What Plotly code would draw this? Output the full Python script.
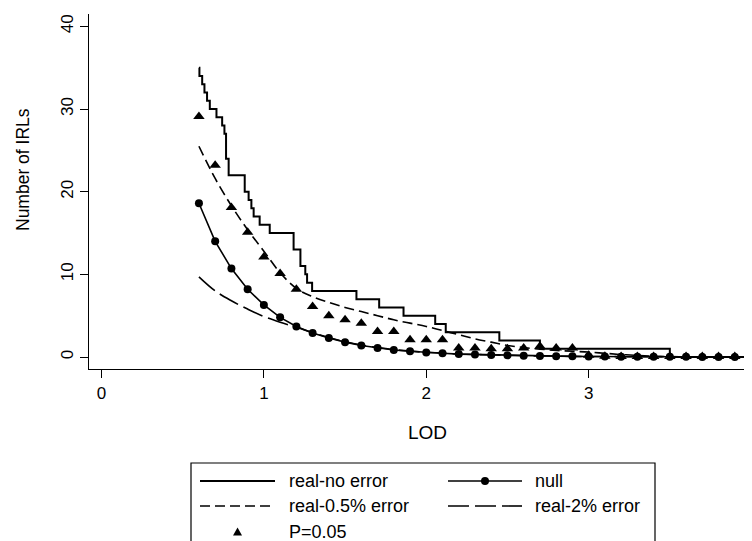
import plotly.graph_objects as go

# LOD grid for the simulated curves
lod = [0.6, 0.7, 0.8, 0.9, 1.0, 1.1, 1.2, 1.3, 1.4, 1.5, 1.6, 1.7, 1.8, 1.9, 2.0,
       2.1, 2.2, 2.3, 2.4, 2.5, 2.6, 2.7, 2.8, 2.9, 3.0, 3.1, 3.2, 3.3, 3.4, 3.5,
       3.6, 3.7, 3.8, 3.9, 4.0]

null_irl = [18.6, 14.0, 10.7, 8.2, 6.3, 4.8, 3.7, 2.9, 2.3, 1.8, 1.4, 1.1, 0.85, 0.7, 0.55,
            0.45, 0.35, 0.3, 0.25, 0.2, 0.15, 0.12, 0.1, 0.08, 0.06, 0.05, 0.04, 0.03, 0.03, 0.02,
            0.02, 0.01, 0.01, 0.01, 0.0]

p005_irl = [29.1, 23.2, 18.1, 15.1, 12.1, 10.1, 8.2, 6.1, 5.0, 4.5, 4.1, 3.1, 3.1, 2.1, 2.1,
            2.1, 1.1, 1.1, 1.0, 1.0, 1.1, 1.3, 1.1, 1.1, 0.2, 0.1, 0.05, 0.05, 0.05, 0.05,
            0.05, 0.05, 0.05, 0.05, 0.05]

err05_irl = [25.5, 21.6, 18.3, 15.4, 12.8, 10.2, 8.3, 7.3, 6.6, 6.0, 5.5, 5.0, 4.5, 4.1, 3.7,
             3.2, 2.7, 2.2, 1.8, 1.4, 1.15, 0.95, 0.8, 0.7, 0.6, 0.45, 0.3, 0.2, 0.1, 0.05,
             0.03, 0.02, 0.01, 0.01, 0.0]

err2_irl = [9.7, 8.0, 6.8, 5.8, 4.9, 4.2, 3.6, 2.95, 2.35, 1.85, 1.45, 1.15, 0.9, 0.72, 0.57,
            0.46, 0.37, 0.3, 0.25, 0.2, 0.16, 0.13, 0.1, 0.08, 0.06, 0.05, 0.04, 0.03, 0.03, 0.02,
            0.02, 0.01, 0.01, 0.01, 0.0]

# observed (real, no error) step function: LOD where count changes, count after change
real_lod = [0.600, 0.603, 0.620, 0.634, 0.650, 0.667, 0.708, 0.743, 0.757, 0.767, 0.783,
            0.882, 0.906, 0.923, 0.937, 0.974, 1.036, 1.183, 1.225, 1.255, 1.266, 1.297,
            1.57, 1.71, 1.86, 2.055, 2.12, 2.45, 2.70, 3.50, 4.0]
real_irl = [35, 34, 33, 32, 31, 30, 29, 28, 27, 24, 22,
            20, 19, 18, 17, 16, 15, 13, 11, 10, 9, 8,
            7, 6, 5, 4, 3, 2, 1, 0, 0]

x_ticks = [0, 1, 2, 3, 4]
y_ticks = [0, 10, 20, 30, 40]

series_names = ["real-no error", "null", "real-0.5% error", "real-2% error", "P=0.05"]

FONT = "Liberation Sans, Arial, Helvetica, sans-serif"
DASH_SHORT = "10px,5px"
DASH_LONG = "21px,6px"

# figure geometry (px); the page adds an 8px body margin on top/left
W, H = 744, 533
ML, MR, MT, MB = 81, 0, 6, 172
PW, PH = W - ML - MR, H - MT - MB


def px_x(fx):
    return (fx - ML) / PW


def px_y(fy):
    return (H - MB - fy) / PH


fig = go.Figure()
fig.add_trace(go.Scatter(x=real_lod, y=real_irl, mode="lines", name=series_names[0],
                         line=dict(color="black", width=2, shape="hv"), showlegend=False))
fig.add_trace(go.Scatter(x=lod, y=err05_irl, mode="lines", name=series_names[2],
                         line=dict(color="black", width=1.6, dash=DASH_SHORT, shape="spline"),
                         showlegend=False))
fig.add_trace(go.Scatter(x=lod, y=err2_irl, mode="lines", name=series_names[3],
                         line=dict(color="black", width=1.6, dash=DASH_LONG, shape="spline"),
                         showlegend=False))
fig.add_trace(go.Scatter(x=lod, y=null_irl, mode="lines+markers", name=series_names[1],
                         line=dict(color="black", width=1.6),
                         marker=dict(symbol="circle", size=8, color="black"), showlegend=False))
fig.add_trace(go.Scatter(x=lod, y=p005_irl, mode="markers", name=series_names[4],
                         marker=dict(symbol="triangle-up", size=10, color="black"),
                         showlegend=False))

axis_common = dict(showline=True, linecolor="black", linewidth=1.2, ticks="outside",
                   ticklen=8, tickwidth=1.2, tickcolor="black", showgrid=False,
                   zeroline=False, ticklabeloverflow="allow",
                   tickfont=dict(size=17, family=FONT, color="black"))

fig.update_xaxes(range=[-0.077, 4.006], tickvals=x_ticks, **axis_common)
fig.update_yaxes(range=[-1.45, 41.5], tickvals=y_ticks, tickangle=-90, **axis_common)

annotations = [
    dict(text="LOD", xref="paper", yref="paper", x=px_x(419), y=px_y(424),
         xanchor="center", yanchor="middle", showarrow=False,
         font=dict(size=19, family=FONT, color="black")),
    dict(text="Number of IRLs", xref="paper", yref="paper", x=px_x(15), y=px_y(162),
         xanchor="center", yanchor="middle", textangle=-90, showarrow=False,
         font=dict(size=17.5, family=FONT, color="black")),
]

shapes = []
# legend box (bottom edge lies outside the picture, as in the reference)
shapes.append(dict(type="rect", xref="paper", yref="paper",
                   x0=px_x(183), x1=px_x(647), y0=px_y(455), y1=px_y(600),
                   line=dict(color="black", width=1.2), fillcolor="white", layer="above"))

row_y = [473, 498, 524]
col_sample = [(192, 267), (440, 514)]
col_text = [279, 525]
entries = [  # (series index, row, col, style)
    (0, 0, 0, "solid"),
    (1, 0, 1, "null"),
    (2, 1, 0, "short"),
    (3, 1, 1, "long"),
    (4, 2, 0, "tri"),
]
for idx, r, c, style in entries:
    fy = row_y[r]
    x0, x1 = col_sample[c]
    if style in ("solid", "null", "short", "long"):
        dash = {"solid": "solid", "null": "solid", "short": DASH_SHORT, "long": DASH_LONG}[style]
        width = 2 if style == "solid" else 1.6
        shapes.append(dict(type="line", xref="paper", yref="paper",
                           x0=px_x(x0), x1=px_x(x1), y0=px_y(fy), y1=px_y(fy),
                           line=dict(color="black", width=width, dash=dash), layer="above"))
    if style == "null":
        cx = (x0 + x1) / 2
        shapes.append(dict(type="circle", xref="paper", yref="paper",
                           x0=px_x(cx - 4), x1=px_x(cx + 4), y0=px_y(fy + 4), y1=px_y(fy - 4),
                           fillcolor="black", line=dict(color="black", width=0), layer="above"))
    if style == "tri":
        cx = (x0 + x1) / 2
        path = "M {} {} L {} {} L {} {} Z".format(
            px_x(cx - 4.5), px_y(fy + 3.5), px_x(cx + 4.5), px_y(fy + 3.5),
            px_x(cx), px_y(fy - 4.5))
        shapes.append(dict(type="path", xref="paper", yref="paper", path=path,
                           fillcolor="black", line=dict(color="black", width=0), layer="above"))
    annotations.append(dict(text=series_names[idx], xref="paper", yref="paper",
                            x=px_x(col_text[c]), y=px_y(fy), xanchor="left", yanchor="middle",
                            showarrow=False, font=dict(size=18, family=FONT, color="black")))

fig.update_layout(
    width=W, height=H,
    margin=dict(l=ML, r=MR, t=MT, b=MB, autoexpand=False),
    plot_bgcolor="white", paper_bgcolor="white",
    font=dict(family=FONT, color="black"),
    showlegend=False,
    annotations=annotations,
    shapes=shapes,
)

fig.write_html("out.html")
